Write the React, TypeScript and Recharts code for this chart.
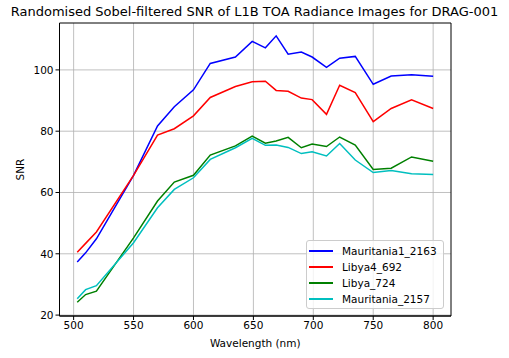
import { LineChart, Line, XAxis, YAxis, CartesianGrid, ReferenceArea, Label } from 'recharts';

const wavelengths = [503, 510, 519, 550, 570, 584, 600, 614, 635, 649, 660, 669, 679, 690, 699, 711, 722, 735, 750, 765, 782, 800];

const mauritania1_2163 = [37.3, 40.3, 44.9, 65.6, 81.7, 88.0, 93.5, 102.1, 104.2, 109.3, 107.2, 111.1, 105.1, 105.8, 104.2, 100.8, 103.8, 104.4, 95.3, 98.0, 98.4, 97.9];
const libya4_692 = [40.5, 43.4, 47.1, 65.6, 78.7, 80.8, 85.0, 91.0, 94.6, 96.1, 96.3, 93.3, 93.0, 90.8, 90.3, 85.5, 95.0, 92.6, 83.1, 87.4, 90.2, 87.4];
const libya_724 = [24.2, 26.7, 27.8, 45.2, 57.2, 63.4, 65.6, 72.2, 75.2, 78.4, 76.1, 76.8, 78.0, 74.6, 75.8, 75.0, 78.1, 75.5, 67.5, 67.9, 71.6, 70.2];
const mauritania_2157 = [25.3, 28.3, 29.6, 43.6, 55.0, 61.0, 64.8, 70.8, 74.6, 77.7, 75.4, 75.5, 74.7, 72.7, 73.3, 71.9, 76.0, 70.6, 66.5, 67.2, 66.1, 65.9];

const xTicks = [500, 550, 600, 650, 700, 750, 800];
const yTicks = [20, 40, 60, 80, 100];

const series = [
  { key: 'Mauritania1_2163', values: mauritania1_2163, color: '#0000ff' },
  { key: 'Libya4_692', values: libya4_692, color: '#ff0000' },
  { key: 'Libya_724', values: libya_724, color: '#008000' },
  { key: 'Mauritania_2157', values: mauritania_2157, color: '#00bfbf' },
];

const data = wavelengths.map((w, i) => {
  const row: Record<string, number> = { wl: w };
  series.forEach((s) => {
    row[s.key] = s.values[i];
  });
  return row;
});

const X_DOMAIN: [number, number] = [488.2, 814.9];
const Y_DOMAIN: [number, number] = [19.7, 115.3];
const font = 'DejaVu Sans, sans-serif';

export default function App() {
  return (
    <div style={{ position: 'fixed', left: 0, top: 0, width: 509, height: 358, background: '#fff', fontFamily: font }}>
      <div style={{ position: 'absolute', left: 0, top: 4, width: 509, textAlign: 'center', fontSize: 13, color: '#000', whiteSpace: 'nowrap' }}>
        Randomised Sobel-filtered SNR of L1B TOA Radiance Images for DRAG-001
      </div>
      <LineChart width={509} height={358} data={data} margin={{ top: 23, right: 58, bottom: 12, left: 0 }}>
        <CartesianGrid stroke="#b0b0b0" strokeWidth={0.8} horizontalValues={yTicks} verticalValues={xTicks} />
        <XAxis
          dataKey="wl"
          type="number"
          domain={X_DOMAIN}
          ticks={xTicks}
          allowDataOverflow
          height={30}
          tickSize={4}
          stroke="#000"
          tick={{ fill: '#000', fontSize: 10.5, fontFamily: font }}
        >
          <Label value="Wavelength (nm)" position="bottom" offset={-6} style={{ fill: '#000', fontSize: 10.5, fontFamily: font }} />
        </XAxis>
        <YAxis
          type="number"
          domain={Y_DOMAIN}
          ticks={yTicks}
          allowDataOverflow
          width={59.5}
          tickSize={4}
          stroke="#000"
          tick={{ fill: '#000', fontSize: 10.5, fontFamily: font }}
        >
          <Label value="SNR" angle={-90} position="insideLeft" offset={20} style={{ fill: '#000', fontSize: 10.5, fontFamily: font, textAnchor: 'middle' }} />
        </YAxis>
        {series.map((s) => (
          <Line
            key={s.key}
            dataKey={s.key}
            stroke={s.color}
            strokeWidth={1.5}
            dot={false}
            isAnimationActive={false}
          />
        ))}
        <ReferenceArea x1={X_DOMAIN[0]} x2={X_DOMAIN[1]} y1={Y_DOMAIN[0]} y2={Y_DOMAIN[1]} fill="none" stroke="#000" strokeWidth={1} />
      </LineChart>
      <div
        style={{
          position: 'absolute',
          left: 306,
          top: 240,
          width: 138,
          height: 69,
          background: 'rgba(255,255,255,0.8)',
          border: '1px solid #cccccc',
          borderRadius: 3,
          boxSizing: 'border-box',
        }}
      >
        {series.map((s, i) => (
          <div key={s.key} style={{ position: 'absolute', left: 2, top: 3 + i * 16, height: 14, display: 'flex', alignItems: 'center' }}>
            <div style={{ width: 24, height: 0, borderTop: `2px solid ${s.color}`, marginRight: 9 }} />
            <span style={{ fontSize: 10.5, color: '#000', whiteSpace: 'nowrap' }}>{s.key}</span>
          </div>
        ))}
      </div>
    </div>
  );
}
